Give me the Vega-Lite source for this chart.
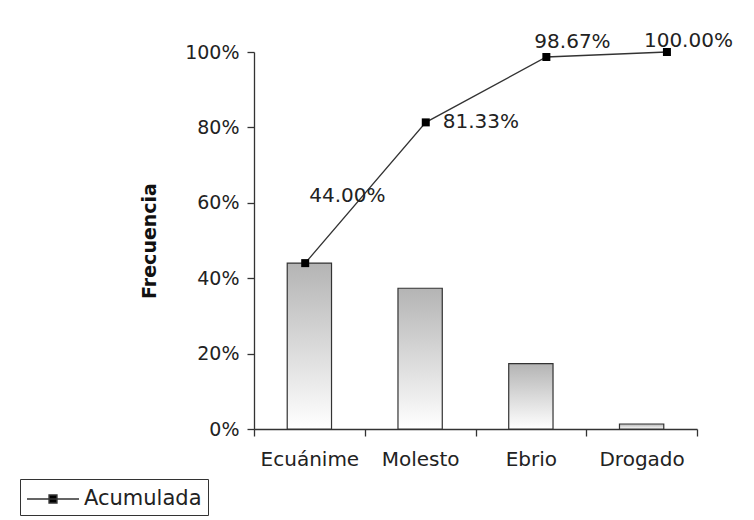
{
  "$schema": "https://vega.github.io/schema/vega-lite/v6.json",
  "width": 443,
  "height": 377,
  "autosize": {"type": "none"},
  "padding": {"left": 254, "top": 52, "right": 57, "bottom": 91},
  "background": "white",
  "config": {
    "view": {"stroke": null},
    "font": "DejaVu Sans",
    "axis": {"grid": false, "domainColor": "#333", "tickColor": "#333", "labelColor": "#222", "domainWidth": 1.3, "tickWidth": 1.3}
  },
  "data": {
    "values": [
      {"categoria": "Ecuánime", "frecuencia": 0.44, "acumulada": 0.44},
      {"categoria": "Molesto", "frecuencia": 0.3733, "acumulada": 0.8133},
      {"categoria": "Ebrio", "frecuencia": 0.1733, "acumulada": 0.9867},
      {"categoria": "Drogado", "frecuencia": 0.0133, "acumulada": 1.0}
    ]
  },
  "layer": [
    {
      "mark": {
        "type": "bar",
        "width": {"band": 0.4},
        "fill": {"gradient": "linear", "x1": 0, "y1": 0, "x2": 0, "y2": 1,
          "stops": [{"offset": 0, "color": "#b4b4b4"}, {"offset": 1, "color": "#ffffff"}]},
        "stroke": "#333",
        "strokeWidth": 1.2
      },
      "encoding": {
        "x": {
          "field": "categoria", "type": "nominal", "sort": null,
          "scale": {"paddingInner": 0, "paddingOuter": 0},
          "axis": {"title": null, "labelAngle": 0, "tickBand": "extent", "tickSize": 7, "labelFontSize": 20, "labelPadding": 13}
        },
        "y": {
          "field": "frecuencia", "type": "quantitative",
          "scale": {"domain": [0, 1]},
          "axis": {"title": "Frecuencia", "values": [0, 0.2, 0.4, 0.6, 0.8, 1], "format": ".0%", "tickSize": 7, "labelPadding": 8, "labelFontSize": 19, "titleFontSize": 19, "titleFontWeight": "bold", "titleColor": "#111", "titlePadding": 25}
        }
      }
    },
    {
      "encoding": {
        "x": {"field": "categoria", "type": "nominal", "sort": null, "scale": {"type": "point", "padding": 0.337, "align": 0.63}, "axis": null},
        "y": {"field": "acumulada", "type": "quantitative", "scale": {"domain": [0, 1]}, "title": "Frecuencia"}
      },
      "layer": [
        {
          "mark": {"type": "line", "strokeWidth": 1.3},
          "encoding": {
            "color": {
              "datum": "Acumulada", "type": "nominal",
              "scale": {"range": ["#333"]},
              "legend": {
                "title": null, "orient": "none", "legendX": -234, "legendY": 427,
                "strokeColor": "#333", "padding": 6, "cornerRadius": 0,
                "labelFontSize": 21, "labelColor": "#222", "labelOffset": 30,
                "symbolType": "M-1,0H3M0.7,-0.3H1.3V0.3H0.7Z",
                "symbolSize": 676, "symbolStrokeWidth": 1.5,
                "symbolFillColor": "#000", "symbolStrokeColor": "#000",
                "encode": {"symbols": {"update": {"fill": {"value": "#000"}, "stroke": {"value": "#000"}}}}
              }
            }
          }
        },
        {
          "mark": {"type": "point", "shape": "square", "filled": true, "size": 64, "color": "#000", "opacity": 1}
        },
        {
          "transform": [{"filter": "datum.categoria === 'Ecuánime'"}],
          "mark": {"type": "text", "align": "left", "baseline": "middle", "dx": 4, "dy": -67, "fontSize": 20, "color": "#222"},
          "encoding": {"text": {"field": "acumulada", "format": ".2%"}}
        },
        {
          "transform": [{"filter": "datum.categoria === 'Molesto'"}],
          "mark": {"type": "text", "align": "left", "baseline": "middle", "dx": 17, "dy": 0, "fontSize": 20, "color": "#222"},
          "encoding": {"text": {"field": "acumulada", "format": ".2%"}}
        },
        {
          "transform": [{"filter": "datum.categoria === 'Ebrio'"}],
          "mark": {"type": "text", "align": "left", "baseline": "middle", "dx": -12, "dy": -15, "fontSize": 20, "color": "#222"},
          "encoding": {"text": {"field": "acumulada", "format": ".2%"}}
        },
        {
          "transform": [{"filter": "datum.categoria === 'Drogado'"}],
          "mark": {"type": "text", "align": "left", "baseline": "middle", "dx": -23, "dy": -11, "fontSize": 20, "color": "#222"},
          "encoding": {"text": {"field": "acumulada", "format": ".2%"}}
        }
      ]
    }
  ],
  "resolve": {"scale": {"x": "independent"}}
}
